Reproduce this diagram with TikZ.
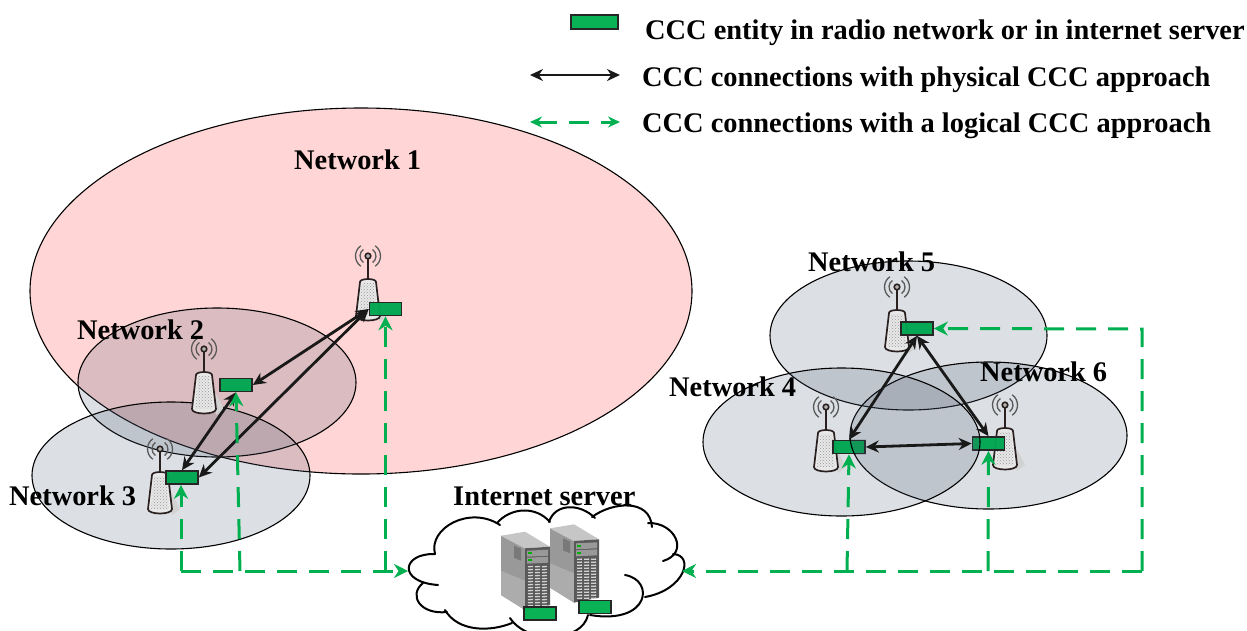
\documentclass[tikz,border=0pt]{standalone}
\usepackage{fontspec}
\setmainfont{Liberation Serif}
\usetikzlibrary{arrows.meta,shapes.geometric,patterns}
\definecolor{cccgreen}{HTML}{00A651}
\definecolor{dashgreen}{HTML}{00B050}
\definecolor{pinkzone}{HTML}{FFD5D5}
\definecolor{slatezone}{HTML}{44546A}
\definecolor{towerline}{HTML}{2A2020}
\tikzset{
  x=1pt,y=-1pt,
  zoneone/.style={ellipse,draw=black,line width=1.1pt,fill=pinkzone,inner sep=0pt},
  zone/.style={ellipse,draw=black,line width=1.1pt,fill=slatezone,fill opacity=0.19,inner sep=0pt},
  entity/.style={rectangle,draw=black!85,line width=1.6pt,fill=cccgreen,minimum width=32pt,minimum height=13pt,inner sep=0pt,fill opacity=0.97},
  label/.style={font=\fontsize{28.4}{32}\selectfont\bfseries,text=black,anchor=base west,inner sep=0pt},
  phys/.style={line width=2.8pt,draw=black!90,{Stealth[length=13pt,width=12pt]}-{Stealth[length=13pt,width=12pt]}},
  logi/.style={line width=3pt,draw=dashgreen,dash pattern=on 20pt off 12pt},
  tip/.style={-{Stealth[length=14pt,width=14pt]}},
  cloudline/.style={line width=2pt,draw=black,line cap=round},
  pics/tower/.style={code={
    \fill[white] (-8,24) .. controls (-8,22) and (8,22) .. (8,24) -- (12,60) .. controls (12,66) and (-12,66) .. (-12,60) -- cycle;
    \fill[gray!35] (4,34) -- (14,48) -- (20,60) -- (12,66) -- cycle;
    \draw[line width=1.7pt,draw=towerline,fill=gray!18]
      (-8,26) .. controls (-8,22) and (8,22) .. (8,26) -- (12,60) .. controls (12,66) and (-12,66) .. (-12,60) -- cycle;
    \fill[gray!45,pattern=crosshatch dots,pattern color=gray!80] (-6,27) -- (6,27) -- (9,60) -- (-9,60) -- cycle;
    \draw[line width=2pt,draw=towerline] (0,2) -- (0,23);
    \draw[line width=1.6pt,draw=towerline,fill=gray!60] (0,0) circle[radius=2.8];
    \foreach \r in {8,12.5}{
      \draw[line width=1.3pt,draw=gray!70!black] (125:\r) arc[start angle=125,end angle=235,radius=\r];
      \draw[line width=1.3pt,draw=gray!70!black] (-55:\r) arc[start angle=-55,end angle=55,radius=\r];
    }
  }},
  pics/server/.style={code={
    \fill[gray!80] (0,0) -- (24,12.6) -- (24,74.3) -- (0,59.3) -- cycle;
    \fill[gray!65] (0,35) -- (24,45) -- (24,74.3) -- (0,59.3) -- cycle;
    \fill[gray!45] (0,0) -- (24,-4) -- (49,11) -- (24,12.6) -- cycle;
    \fill[gray!70!black] (24,12.6) -- (49,11) -- (49,69.3) -- (24,74.3) -- cycle;
    \fill[gray!95!black] (13,10) -- (20,13) -- (20,25) -- (13,22) -- cycle;
    \foreach \yy in {15,22}{
      \fill[gray!80] (26,\yy) -- (47,{\yy-1}) -- (47,{\yy+5}) -- (26,{\yy+6}) -- cycle;
      \fill[green!70!black] (27,{\yy+1.5}) rectangle (31,{\yy+3.5});
    }
    \foreach \xx in {27,34,41}{
      \foreach \yy in {31,34,...,70}{
        \draw[gray!35,line width=1.3pt] (\xx,\yy) -- ({\xx+5},{\yy-0.2});
      }
    }
  }}
}
\begin{document}
\begin{tikzpicture}
\useasboundingbox (0,0) rectangle (1247,630);

% coverage areas on the left
\node[zoneone,minimum width=662pt,minimum height=366pt] (net1) at (361,291) {};
\node[zone,minimum width=278pt,minimum height=149pt] (net2) at (217,382.5) {};
\node[zone,minimum width=278pt,minimum height=147pt] (net3) at (171,475.5) {};

% coverage areas on the right
\node[zone,minimum width=277pt,minimum height=149pt] (net5) at (908.5,335.5) {};
\node[zone,minimum width=277pt,minimum height=147pt] (net6) at (988.5,435.5) {};

% towers
\pic at (368,256) {tower};
\pic at (204,349) {tower};
\pic at (160,449) {tower};
\pic at (897,287) {tower};
\pic at (1005,405) {tower};

% entity under Network 4's area
\node[entity] (e6) at (988.5,443.5) {};
\node[zone,minimum width=277pt,minimum height=148pt] (net4) at (841.5,442) {};
\pic at (826,407) {tower};

% CCC entities
\node[entity] (e1) at (385.5,309) {};
\node[entity] (e2) at (236,385) {};
\node[entity] (e3) at (182,477.5) {};
\node[entity] (e5) at (917,328.5) {};
\node[entity] (e4) at (849,447) {};
\begin{scope}
  \clip (e4.south west) rectangle (e4.north east);
  \node[zone,minimum width=277pt,minimum height=147pt] (net6b) at (988.5,435.5) {};
\end{scope}

% servers
\pic at (501,535.7) {server};
\pic at (550,528.3) {server};
\node[entity,fill=dashgreen] (s1) at (540,613.5) {};
\node[entity,fill=dashgreen] (s2) at (595,607) {};

% cloud
\draw[cloudline] (435,554) .. controls (402,553) and (397,582) .. (438,585);
\draw[cloudline] (435,554) .. controls (428,528) and (470,505) .. (500,525);
\draw[cloudline] (497,523) .. controls (510,508) and (535,505) .. (550,522);
\draw[cloudline] (549,522) .. controls (555,503) and (580,503) .. (595,518);
\draw[cloudline] (592,517) .. controls (612,502) and (650,498) .. (652,527);
\draw[cloudline] (648,523) .. controls (675,522) and (690,553) .. (663,561);
\draw[cloudline] (673,554) .. controls (695,555) and (685,590) .. (645,597);
\draw[cloudline] (625,575) .. controls (655,580) and (650,625) .. (590,615);
\draw[cloudline] (588,615) .. controls (582,642) and (528,645) .. (510,618);
\draw[cloudline] (512,623) .. controls (490,632) and (458,632) .. (445,610);
\draw[cloudline] (447,612) .. controls (420,615) and (408,595) .. (423,583);

% named connector ends
\coordinate (cloudL) at (408,571);
\coordinate (cloudR) at (682,571);
\coordinate (busW) at (181,571);
\coordinate (b2) at (240,571);
\coordinate (b4) at (847,571);
\coordinate (b6) at (988,571);
\coordinate (busE) at (1142,571);
\coordinate (riserE) at (1142,329);

% physical connections
\draw[phys] (e1.west) -- (e2.east);
\draw[phys] (e1.west) -- (e3.east);
\draw[phys] (e2.south) -- (e3.north);
\draw[phys] (e5.south) -- (e4.north);
\draw[phys] (e5.south) -- (e6.north);
\draw[phys] (e4.east) -- (e6.west);

% logical connections
\draw[logi,tip] (busW) -- (cloudL);
\draw[logi,tip] (busW) -- (e3.south -| busW);
\draw[logi,tip] (b2) -- (e2.south);
\draw[logi,tip] (e1.south |- busW) -- (e1.south);
\draw[logi,tip] (busE) -- (cloudR);
\draw[logi,tip] (b4) -- (e4.south);
\draw[logi,tip] (b6) -- (e6.south);
\draw[logi,tip] (busE) -- (riserE) -- (e5.east);

% labels
\node[label] (n1) at (294,169) {Network 1};
\node[label] (n2) at (77,339) {Network 2};
\node[label] (n3) at (9,505) {Network 3};
\node[label] (n4) at (669,396) {Network 4};
\node[label] (n5) at (808,271) {Network 5};
\node[label] (n6) at (980,381) {Network 6};
\node[label] (ns) at (453,505) {Internet server};

% legend
\node[entity,minimum width=47pt,minimum height=14pt,fill=dashgreen] (lege) at (594.5,22) {};
\node[label] (l1) at (645,39) {CCC entity in radio network or in internet server};
\coordinate (la) at (530,75);
\coordinate (lb) at (620,75);
\draw[phys] (la) -- (lb);
\node[label] (l2) at (642,86) {CCC connections with physical CCC approach};
\coordinate (lc) at (530,122);
\coordinate (ld) at (620,122);
\draw[logi,{Stealth[length=12pt,width=11pt]}-{Stealth[length=12pt,width=11pt]}] (lc) -- (ld);
\node[label] (l3) at (642,132) {CCC connections with a logical CCC approach};
\end{tikzpicture}
\end{document}
